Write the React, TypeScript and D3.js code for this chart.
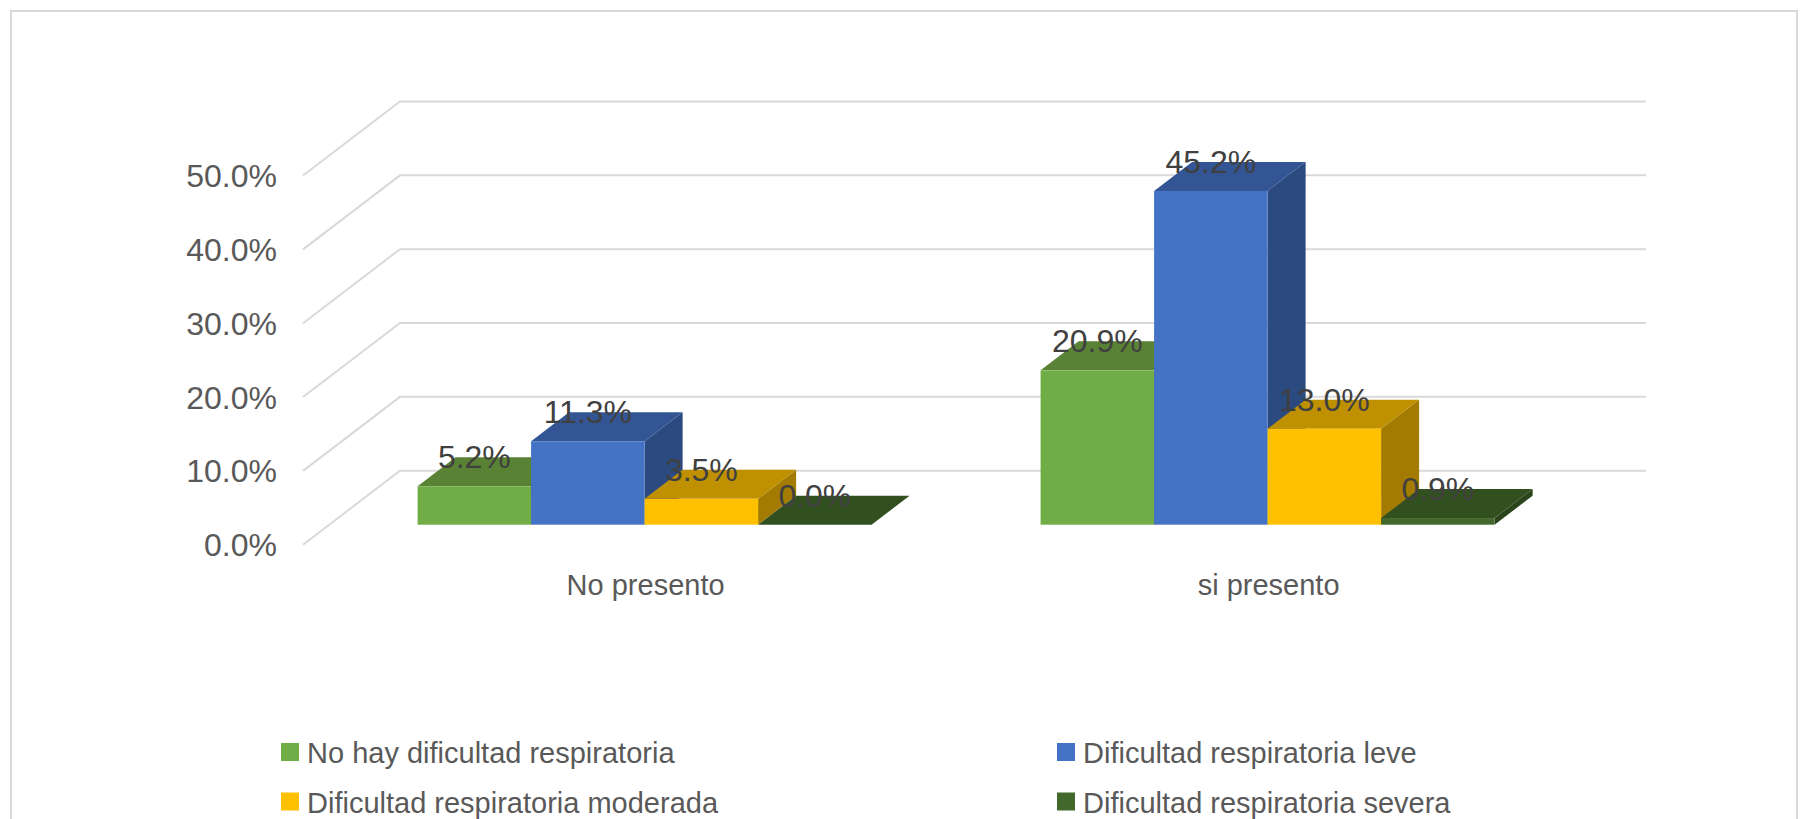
import React from "react";
import * as d3 from "d3";

const categories = ["No presento", "si presento"];
const seriesNames = [
  "No hay dificultad respiratoria",
  "Dificultad respiratoria leve",
  "Dificultad respiratoria moderada",
  "Dificultad respiratoria severa",
];
const noPresento = [5.2, 11.3, 3.5, 0.0];
const siPresento = [20.9, 45.2, 13.0, 0.9];
const yTicks = [0, 10, 20, 30, 40, 50];

const frontColors = ["#70ad47", "#4472c4", "#ffc000", "#43682b"];
const topColors = ["#5a8234", "#335593", "#bf9000", "#324f20"];
const sideColors = ["#4f7430", "#2a4a80", "#a37b00", "#2a441b"];

const WIDTH = 1809;
const HEIGHT = 819;
const FONT = "'Liberation Sans', Arial, sans-serif";

// Oblique projection: the floor runs from the front edge to the back wall.
const WALL_DX = 97;
const WALL_DY = 74;
const BAR_OFFSET_DX = 26;
const BAR_OFFSET_DY = 20;
const BAR_DX = 38;
const BAR_DY = 29;

const wallLeft = 400;
const wallRight = 1646;

// y is the wall position of each value; bars sit nearer, shifted by the offsets
const y = d3.scaleLinear().domain([0, 50]).range([470.7, 101.5]);
const x0 = d3.scaleBand<string>().domain(categories).range([303, 1546]).paddingInner(0).paddingOuter(0);

const groupWidth = 454 * 1.0;
const x1 = d3.scaleBand<number>().domain([0, 1, 2, 3]).range([0, groupWidth]);

const values = [noPresento, siPresento];
const groupStarts = [417.6, 1040.6];
const floorY = y(0) + WALL_DY - BAR_OFFSET_DY - 0; // front bottom edge of the bars

const poly = (pts: [number, number][]) => pts.map((p) => p.join(",")).join(" ");

export default function App() {
  const barsLayer: React.ReactNode[] = [];
  const labels: React.ReactNode[] = [];

  categories.forEach((cat, g) => {
    values[g].forEach((v, s) => {
      const left = groupStarts[g] + (x1(s) as number);
      const w = x1.bandwidth();
      const h = y(0) - y(v);
      const top = floorY - h;
      barsLayer.push(
        <g key={`${cat}-${s}`}>
          <polygon
            points={poly([
              [left + w, floorY],
              [left + w + BAR_DX, floorY - BAR_DY],
              [left + w + BAR_DX, top - BAR_DY],
              [left + w, top],
            ])}
            fill={sideColors[s]}
          />
          <polygon
            points={poly([
              [left, top],
              [left + BAR_DX, top - BAR_DY],
              [left + w + BAR_DX, top - BAR_DY],
              [left + w, top],
            ])}
            fill={topColors[s]}
          />
          <rect x={left} y={top} width={w} height={h} fill={frontColors[s]} />
        </g>
      );
      labels.push(
        <text
          key={`${cat}-label-${s}`}
          x={left + w / 2}
          y={top - 18}
          textAnchor="middle"
          fontSize={32}
          fill="#404040"
        >
          {v.toFixed(1)}%
        </text>
      );
    });
  });

  return (
    <svg
      width={WIDTH}
      height={HEIGHT}
      viewBox={`0 0 ${WIDTH} ${HEIGHT}`}
      style={{ position: "absolute", left: 0, top: 0, background: "#fff" }}
      fontFamily={FONT}
    >
      {/* chart frame, open at the bottom */}
      <path d={`M11 819V11H1797V819`} fill="none" stroke="#d9d9d9" strokeWidth={2} />

      {/* back wall gridlines and their slanted floor-side continuations */}
      {yTicks.map((t) => (
        <polyline
          key={t}
          points={poly([
            [wallLeft - WALL_DX, y(t) + WALL_DY],
            [wallLeft, y(t)],
            [wallRight, y(t)],
          ])}
          fill="none"
          stroke="#d9d9d9"
          strokeWidth={2}
        />
      ))}

      {yTicks.map((t) => (
        <text
          key={`tick-${t}`}
          x={277}
          y={y(t) + WALL_DY + 11.5}
          textAnchor="end"
          fontSize={32}
          fill="#595959"
        >
          {t.toFixed(1)}%
        </text>
      ))}

      {barsLayer}
      {labels}

      {categories.map((c, g) => (
        <text
          key={c}
          x={groupStarts[g] + groupWidth / 2 + 1 - 0 * (x0(c) as number)}
          y={595}
          textAnchor="middle"
          fontSize={29}
          fill="#595959"
        >
          {c}
        </text>
      ))}

      {seriesNames.map((name, i) => {
        const col = i % 2;
        const row = Math.floor(i / 2);
        const lx = col === 0 ? 281 : 1057;
        const ly = 752 + row * 49.5;
        return (
          <g key={name}>
            <rect x={lx} y={ly - 9} width={18} height={18} fill={frontColors[i]} />
            <text x={lx + 26} y={ly + 11} fontSize={29} fill="#595959">
              {name}
            </text>
          </g>
        );
      })}
    </svg>
  );
}
